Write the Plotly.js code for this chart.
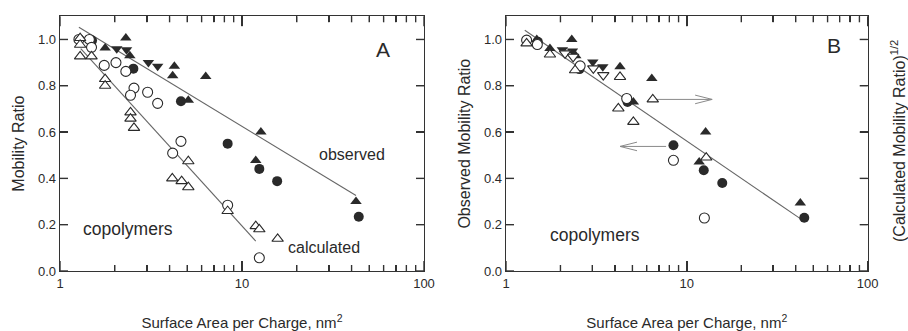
<!DOCTYPE html>
<html>
<head>
<meta charset="utf-8">
<script src="https://cdn.plot.ly/plotly-3.0.1.min.js"></script>
<style>html,body{margin:0;padding:0;background:#fff;}#chart{width:908px;height:331px;}</style>
</head>
<body>
<div id="chart"></div>
<script>
// ---------- Panel A data ----------
const A_fUp_x = [1.77, 2.30, 2.42, 4.25, 4.16, 6.32, 5.07, 12.7, 11.9, 42.3];
const A_fUp_y = [0.963, 1.006, 0.93, 0.884, 0.843, 0.84, 0.737, 0.60, 0.477, 0.30];
const A_fDn_x = [2.05, 2.32, 3.06, 3.44];
const A_fDn_y = [0.96, 0.955, 0.90, 0.884];
const A_fCi_x = [1.5, 2.53, 4.62, 8.34, 12.45, 15.6, 43.8];
const A_fCi_y = [0.995, 0.874, 0.733, 0.55, 0.441, 0.388, 0.234];
const A_oCi_x = [1.27, 1.45, 1.49, 1.75, 2.03, 2.30, 2.55, 2.44, 3.03, 3.44, 4.62, 4.16, 8.34, 12.45];
const A_oCi_y = [1.0, 1.0, 0.966, 0.888, 0.90, 0.862, 0.79, 0.759, 0.772, 0.724, 0.56, 0.509, 0.284, 0.057];
const A_oUp_x = [1.29, 1.29, 1.29, 1.49, 1.77, 1.77, 2.44, 2.44, 2.55, 5.07, 4.14, 4.66, 5.07, 8.34, 11.9, 12.45, 15.7];
const A_oUp_y = [1.006, 0.977, 0.927, 0.927, 0.829, 0.80, 0.685, 0.658, 0.618, 0.474, 0.40, 0.388, 0.362, 0.259, 0.194, 0.18, 0.139];
const A_obsLine_x = [1.27, 42.3];
const A_obsLine_y = [1.053, 0.326];
const A_calLine_x = [1.3, 11.9];
const A_calLine_y = [0.96, 0.129];

// ---------- Panel B data ----------
const B_fUp_x = [1.48, 1.75, 2.31, 2.43, 4.27, 6.4, 5.06, 12.7, 11.7, 42.4];
const B_fUp_y = [1.0, 0.961, 1.0, 0.93, 0.882, 0.831, 0.73, 0.60, 0.471, 0.294];
const B_fDn_x = [2.05, 2.33, 3.02, 3.43];
const B_fDn_y = [0.956, 0.95, 0.903, 0.882];
const B_fCi_x = [1.5, 2.55, 4.7, 8.43, 12.4, 15.7, 44.6];
const B_fCi_y = [0.99, 0.872, 0.73, 0.543, 0.435, 0.38, 0.23];
const B_oCi_x = [1.30, 1.49, 2.57, 4.65, 8.43, 12.5];
const B_oCi_y = [0.997, 0.978, 0.886, 0.745, 0.478, 0.229];
const B_oUp_x = [1.30, 1.75, 2.41, 4.27, 6.48, 4.18, 5.06, 12.8];
const B_oUp_y = [0.983, 0.935, 0.867, 0.838, 0.741, 0.702, 0.644, 0.49];
const B_oDn_x = [2.12, 2.35, 3.04, 3.45];
const B_oDn_y = [0.94, 0.925, 0.875, 0.846];
const B_fitLine_x = [1.27, 42.4];
const B_fitLine_y = [1.04, 0.226];
// arrows: [from, to]
const B_arrowR_x = [6.83, 13.8];
const B_arrowR_y = [0.741, 0.741];
const B_arrowL_x = [7.68, 4.27];
const B_arrowL_y = [0.538, 0.538];

// ---------- Ticks / labels ----------
const xTickVals = [1, 10, 100];
const xTickText = ['1', '10', '100'];
const yTickVals = [0, 0.2, 0.4, 0.6, 0.8, 1.0];
const xRangeLog = [0, 2];
const yRange = [0, 1.1];
const xTitle = 'Surface Area per Charge, nm<sup>2</sup>';
const yTitleA = 'Mobility Ratio';
const yTitleB = 'Observed Mobility Ratio';
const yTitleB2 = '(Calculated Mobility Ratio)<sup>1/2</sup>';

const INK = '#2a2a2a';
const AX = '#333333';
const LINEC = '#666';
const ARROWC = '#8a8a8a';
const MS = 10;
const F = 'Liberation Sans, Arial, sans-serif';
const W = 908, H = 331;
const PLOT_TOP = 16.3, PLOT_BOTTOM = 271;
const PANEL_A = [60, 424], PANEL_B = [506, 867.7];
const DECADE_B = 180.7;   // px per decade on panel B (style, for arrowhead size)
const UNIT_B = 231.4;     // px per 1.0 on panel B y

// minor tick positions (2..9 in each decade) derived from the major ticks
const xMinorVals = [];
for (let d = 0; d < xTickVals.length - 1; d++) {
  for (let k = 2; k <= 9; k++) xMinorVals.push(xTickVals[d] * k);
}

function pts(x, y, sym, filled, xa, ya) {
  return {
    x: x, y: y, type: 'scatter', mode: 'markers', xaxis: xa, yaxis: ya,
    marker: {
      symbol: sym, size: MS,
      color: filled ? INK : '#ffffff',
      line: {color: INK, width: filled ? 0 : 1.1}
    },
    hoverinfo: 'skip', showlegend: false
  };
}
function line(x, y, xa, ya, color, width) {
  return {x: x, y: y, type: 'scatter', mode: 'lines', xaxis: xa, yaxis: ya,
    line: {color: color || LINEC, width: width || 1.1}, hoverinfo: 'skip', showlegend: false};
}
// arrow = shaft + open V head, head size given in pixels
function arrowTraces(xs, ys) {
  const headLen = 17, headHalf = 4.3;
  const dir = xs[1] > xs[0] ? 1 : -1;
  const f = Math.pow(10, headLen / DECADE_B);
  const tipX = xs[1], tipY = ys[1];
  const backX = dir > 0 ? tipX / f : tipX * f;
  const dy = headHalf / UNIT_B;
  return [
    line(xs, ys, 'x2', 'y2', ARROWC, 1),
    line([backX, tipX, backX], [tipY + dy, tipY, tipY - dy], 'x2', 'y2', ARROWC, 1)
  ];
}

// inward tick marks on all four sides, as shapes in axis-domain units
function tickShapes(xid, yid, panelPx) {
  const plotW = panelPx[1] - panelPx[0];
  const plotH = PLOT_BOTTOM - PLOT_TOP;
  const xr = xid + ' domain', yr = yid + ' domain';
  const sh = [];
  const seg = (x0, y0, x1, y1) => sh.push({type: 'line', xref: xr, yref: yr,
    x0: x0, y0: y0, x1: x1, y1: y1, layer: 'above', line: {color: AX, width: 1.4}});
  const fx = v => (Math.log10(v) - xRangeLog[0]) / (xRangeLog[1] - xRangeLog[0]);
  const fy = v => (v - yRange[0]) / (yRange[1] - yRange[0]);
  xTickVals.forEach(v => {
    const f = fx(v), l = 10 / plotH;
    seg(f, 0, f, l); seg(f, 1, f, 1 - l);
  });
  xMinorVals.forEach(v => {
    const f = fx(v), l = 6 / plotH;
    seg(f, 0, f, l); seg(f, 1, f, 1 - l);
  });
  yTickVals.forEach(v => {
    const f = fy(v), l = 8 / plotW;
    seg(0, f, l, f); seg(1, f, 1 - l, f);
  });
  return sh;
}

const traces = [
  line(A_obsLine_x, A_obsLine_y, 'x', 'y'),
  line(A_calLine_x, A_calLine_y, 'x', 'y'),
  pts(A_fCi_x, A_fCi_y, 'circle', true, 'x', 'y'),
  pts(A_fUp_x, A_fUp_y, 'triangle-up', true, 'x', 'y'),
  pts(A_fDn_x, A_fDn_y, 'triangle-down', true, 'x', 'y'),
  pts(A_oCi_x, A_oCi_y, 'circle', false, 'x', 'y'),
  pts(A_oUp_x, A_oUp_y, 'triangle-up', false, 'x', 'y'),

  line(B_fitLine_x, B_fitLine_y, 'x2', 'y2'),
  ...arrowTraces(B_arrowR_x, B_arrowR_y),
  ...arrowTraces(B_arrowL_x, B_arrowL_y),
  pts(B_fCi_x, B_fCi_y, 'circle', true, 'x2', 'y2'),
  pts(B_fUp_x, B_fUp_y, 'triangle-up', true, 'x2', 'y2'),
  pts(B_fDn_x, B_fDn_y, 'triangle-down', true, 'x2', 'y2'),
  pts(B_oCi_x, B_oCi_y, 'circle', false, 'x2', 'y2'),
  pts(B_oUp_x, B_oUp_y, 'triangle-up', false, 'x2', 'y2'),
  pts(B_oDn_x, B_oDn_y, 'triangle-down', false, 'x2', 'y2')
];

function xAxis(panelPx, anchor) {
  return {
    type: 'log', range: xRangeLog, domain: [panelPx[0] / W, panelPx[1] / W], anchor: anchor,
    tickvals: xTickVals, ticktext: xTickText,
    ticks: 'inside', ticklen: 10, tickwidth: 1.4, tickcolor: AX,
    minor: {ticks: 'inside', ticklen: 6, tickwidth: 1.4, tickcolor: AX, dtick: 'D1'},
    showline: true, linecolor: AX, linewidth: 1.4, mirror: 'allticks',
    showgrid: false, zeroline: false,
    tickfont: {family: F, size: 13, color: INK},
    title: {text: xTitle, font: {family: F, size: 15, color: INK}, standoff: 28},
    fixedrange: true
  };
}
function yAxis(title, standoff, anchor) {
  return {
    range: yRange, domain: [(H - PLOT_BOTTOM) / H, (H - PLOT_TOP) / H], anchor: anchor,
    tickvals: yTickVals, tickformat: '.1f',
    ticks: 'inside', ticklen: 8, tickwidth: 1.4, tickcolor: AX,
    showline: true, linecolor: AX, linewidth: 1.4, mirror: 'allticks',
    showgrid: false, zeroline: false,
    tickfont: {family: F, size: 13, color: INK},
    title: {text: title, font: {family: F, size: 16, color: INK}, standoff: standoff},
    fixedrange: true
  };
}

function txt(xref, yref, x, y, t, size) {
  return {xref: xref, yref: yref, x: x, y: y, text: t, showarrow: false,
    font: {family: F, size: size, color: INK}, xanchor: 'center', yanchor: 'middle'};
}

const annotations = [
  txt('x', 'y', 1.775, 0.956, 'A', 21),
  txt('x', 'y', 1.604, 0.503, 'observed', 16),
  txt('x', 'y', 1.451, 0.102, 'calculated', 16),
  txt('x', 'y', 0.374, 0.18, 'copolymers', 17.5),
  txt('x2', 'y2', 1.811, 0.975, 'B', 21),
  txt('x2', 'y2', 0.4925, 0.157, 'copolymers', 17.5),
  {xref: 'paper', yref: 'paper', x: 898 / W, y: (H - 141) / H, text: yTitleB2, textangle: -90,
    showarrow: false, font: {family: F, size: 16, color: INK}, xanchor: 'center', yanchor: 'middle'}
];

const layout = {
  width: W, height: H,
  margin: {l: 0, r: 0, t: 0, b: 0, pad: 0},
  paper_bgcolor: '#ffffff', plot_bgcolor: '#ffffff',
  showlegend: false,
  xaxis: xAxis(PANEL_A, 'y'), yaxis: yAxis(yTitleA, 9, 'x'),
  xaxis2: xAxis(PANEL_B, 'y2'), yaxis2: yAxis(yTitleB, 9, 'x2'),
  annotations: annotations,
  shapes: tickShapes('x', 'y', PANEL_A).concat(tickShapes('x2', 'y2', PANEL_B))
};

Plotly.newPlot('chart', traces, layout, {staticPlot: true, displayModeBar: false});
</script>
</body>
</html>
